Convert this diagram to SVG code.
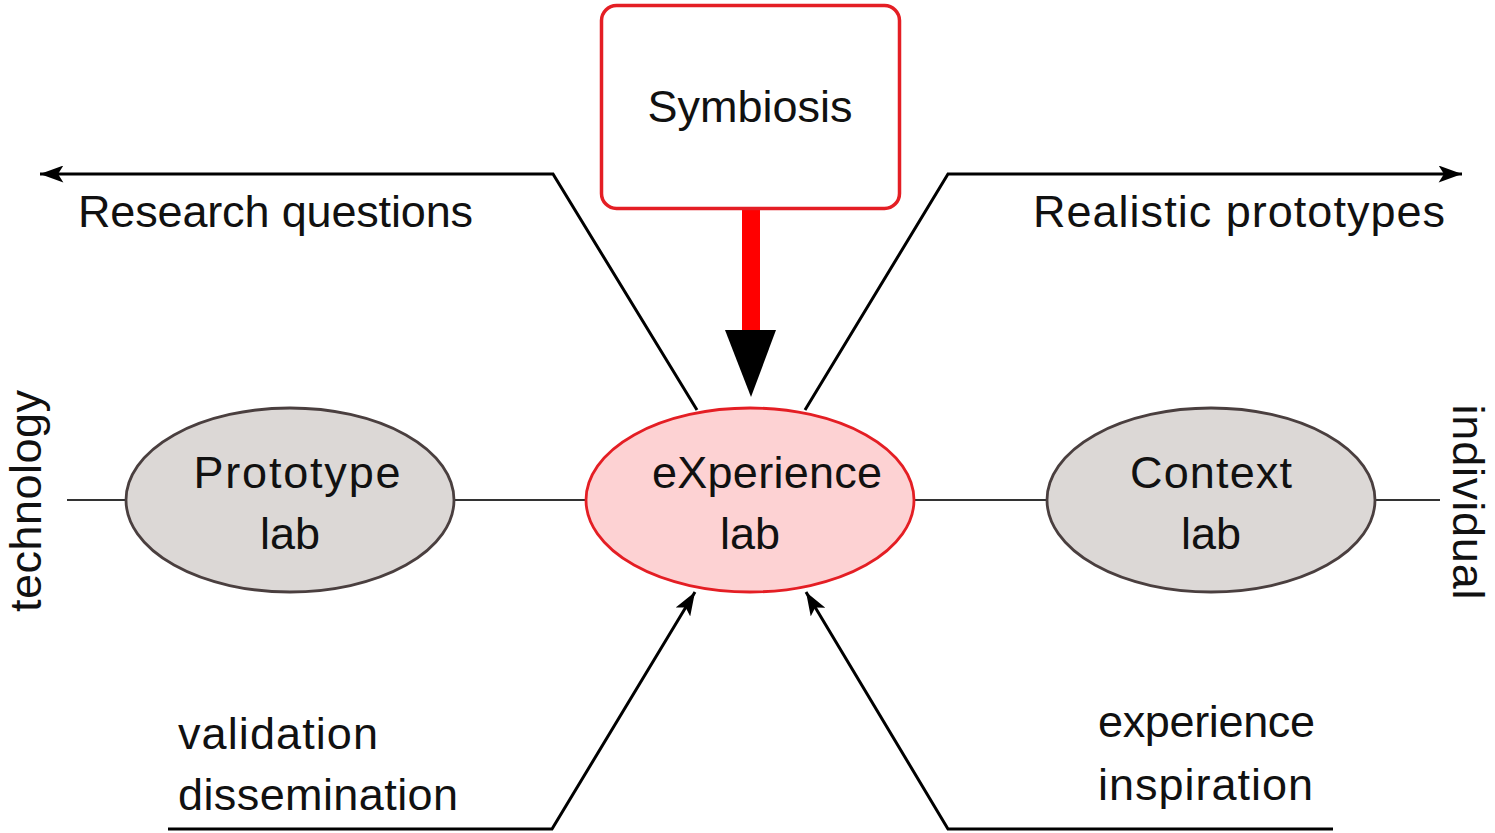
<svg xmlns="http://www.w3.org/2000/svg" width="1495" height="833" viewBox="0 0 1495 833">
<style>
  text { font-family: "Liberation Sans", Arial, sans-serif; font-size: 45px; fill: #111; }
  .conn { fill: none; stroke: #000; stroke-width: 3; stroke-linejoin: miter; }
  .thin { fill: none; stroke: #333; stroke-width: 1.8; }
  .lab { fill: #dcd8d6; stroke: #4a3f3f; stroke-width: 2.8; }
  .xlab { fill: #fdd2d3; stroke: #e41e24; stroke-width: 2.8; }
</style>
<defs>
  <marker id="arrL" viewBox="0 0 22 16" refX="22" refY="8" markerWidth="24" markerHeight="17" markerUnits="userSpaceOnUse" orient="auto">
    <path d="M0,0 L22,8 L0,16 L5,8 Z" fill="#000"/>
  </marker>
</defs>
<rect width="1495" height="833" fill="#fff"/>

<g id="connectors">
  <line class="thin" x1="67" y1="500" x2="126" y2="500"/>
  <line class="thin" x1="454" y1="500" x2="587" y2="500"/>
  <line class="thin" x1="913" y1="500" x2="1048" y2="500"/>
  <line class="thin" x1="1374" y1="500" x2="1440" y2="500"/>
  <path class="conn" d="M697,410 L553,174 L40,174" marker-end="url(#arrL)"/>
  <path class="conn" d="M805,410 L948,174 L1462,174" marker-end="url(#arrL)"/>
  <path class="conn" d="M168,829 L552,829 L695,592" marker-end="url(#arrL)"/>
  <path class="conn" d="M1333,829 L948,829 L806,592" marker-end="url(#arrL)"/>
  <rect x="742" y="209" width="18" height="122" fill="#ff0000"/>
  <polygon points="725,330 776,330 751,397" fill="#000"/>
</g>

<g id="symbiosis">
  <rect x="601.5" y="5.5" width="298" height="203" rx="15" ry="15" fill="#fff" stroke="#e41e24" stroke-width="3.5"/>
  <text x="750" y="122" text-anchor="middle" textLength="205">Symbiosis</text>
</g>

<g id="prototype-lab">
  <ellipse class="lab" cx="290" cy="500" rx="164" ry="92"/>
  <text x="297" y="488" text-anchor="middle" textLength="207">Prototype</text>
  <text x="290" y="549" text-anchor="middle">lab</text>
</g>

<g id="experience-lab">
  <ellipse class="xlab" cx="750" cy="500" rx="164" ry="92"/>
  <text x="767" y="488" text-anchor="middle" textLength="230">eXperience</text>
  <text x="750" y="549" text-anchor="middle">lab</text>
</g>

<g id="context-lab">
  <ellipse class="lab" cx="1211" cy="500" rx="164" ry="92"/>
  <text x="1211" y="488" text-anchor="middle" textLength="162">Context</text>
  <text x="1211" y="549" text-anchor="middle">lab</text>
</g>

<g id="labels">
  <text x="78" y="227" textLength="395">Research questions</text>
  <text x="1033" y="227" textLength="412">Realistic prototypes</text>
  <text x="178" y="749" textLength="200">validation</text>
  <text x="178" y="810" textLength="280">dissemination</text>
  <text x="1098" y="737" textLength="217">experience</text>
  <text x="1098" y="800" textLength="215">inspiration</text>
  <text transform="translate(41,501) rotate(-90)" text-anchor="middle" textLength="222">technology</text>
  <text transform="translate(1453,502) rotate(90)" text-anchor="middle" textLength="195">individual</text>
</g>
</svg>
